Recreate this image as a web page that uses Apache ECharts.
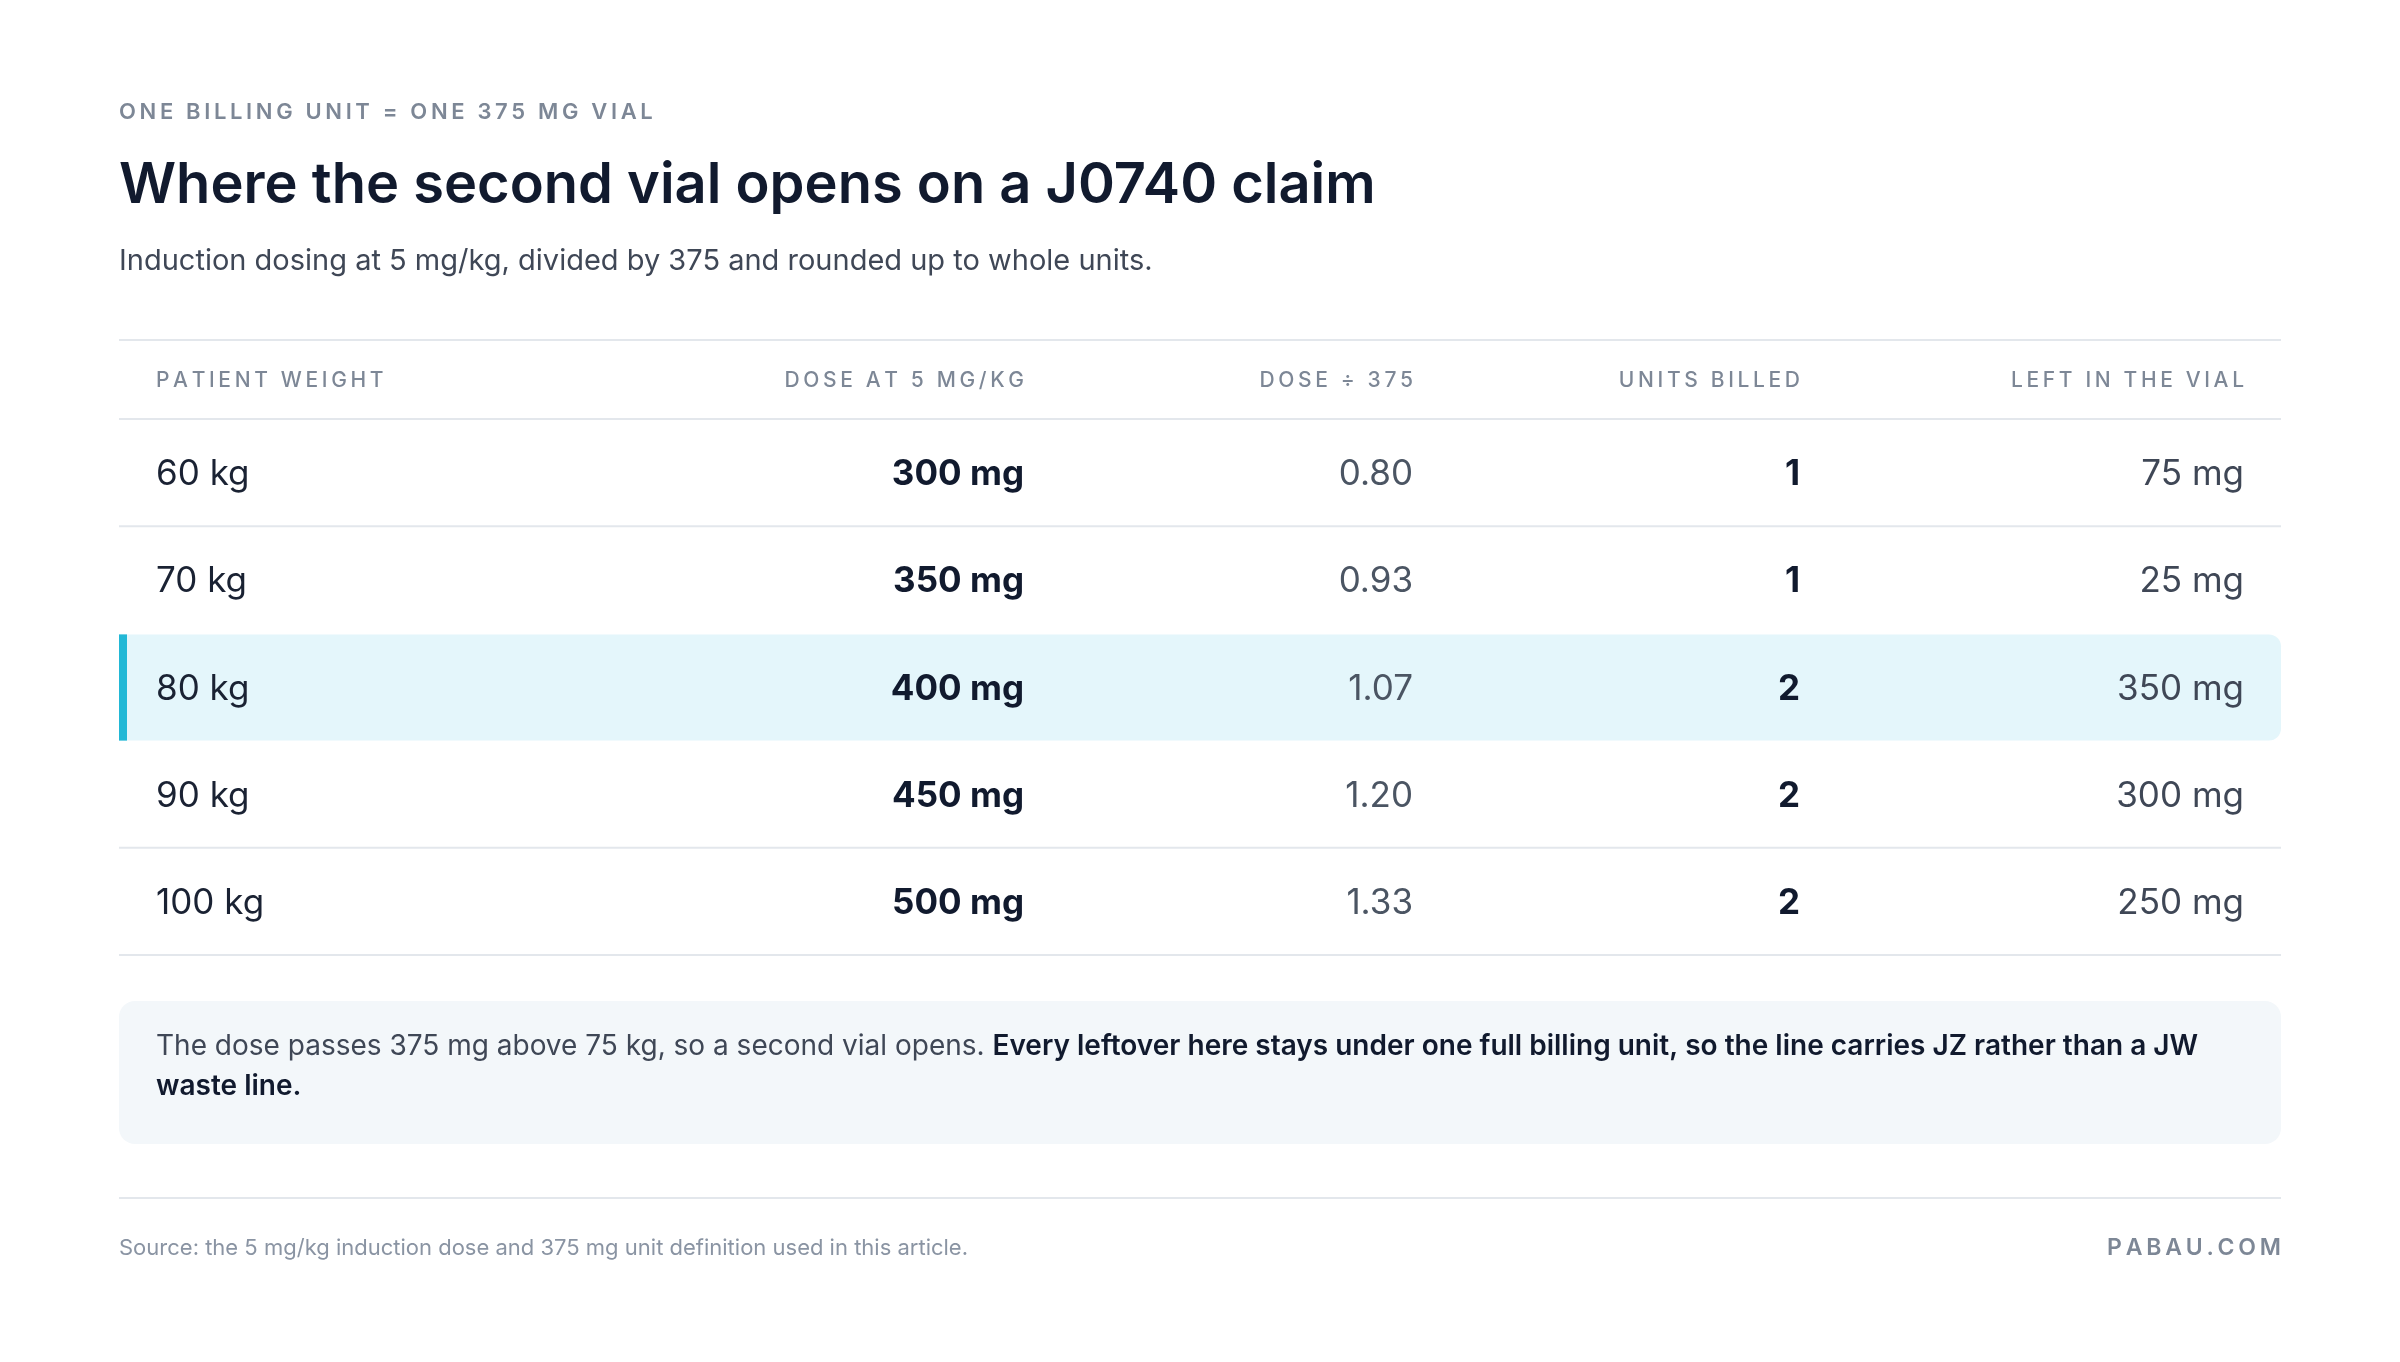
<!DOCTYPE html>
<html><head><meta charset="utf-8">
<script src="https://cdn.jsdelivr.net/npm/echarts@6/dist/echarts.min.js"></script>
<style>html,body{margin:0;padding:0;background:#fff}#c{width:2400px;height:1362px}</style>
</head><body><div id="c"></div>
<script>
const headers = ['PATIENT WEIGHT','DOSE AT 5 MG/KG','DOSE ÷ 375','UNITS BILLED','LEFT IN THE VIAL'];
const weights = ['60 kg','70 kg','80 kg','90 kg','100 kg'];
const doses = ['300 mg','350 mg','400 mg','450 mg','500 mg'];
const ratios = ['0.80','0.93','1.07','1.20','1.33'];
const units = ['1','1','2','2','2'];
const leftover = ['75 mg','25 mg','350 mg','300 mg','250 mg'];
const highlightRow = 2;

const F = 'Inter, "Noto Sans", sans-serif';
const sp = s => s.split('').join('\u2009');
const chart = echarts.init(document.getElementById('c'));
const L = 119, R = 2281;
const g = [];
g.push({type:'text',x:L,y:112,style:{text:sp('ONE BILLING UNIT = ONE 375 MG VIAL'),font:'600 22px '+F,fill:'#7d8796',verticalAlign:'middle'}});
g.push({type:'text',x:L,y:186,style:{text:'Where the second vial opens on a J0740 claim',font:'600 56px '+F,fill:'#111a2e',verticalAlign:'middle'}});
g.push({type:'text',x:L,y:261,style:{text:'Induction dosing at 5 mg/kg, divided by 375 and rounded up to whole units.',font:'400 29px '+F,fill:'#3f4756',verticalAlign:'middle'}});
const line=(y,c)=>g.push({type:'rect',shape:{x:L,y:y,width:R-L,height:2},style:{fill:c||'#e3e7ec'}});
line(339); line(418);
const colX=[156,1024,1413,1800,2244];
const colAlign=['left','right','right','right','right'];
headers.forEach((h,i)=>g.push({type:'text',x:colX[i],y:381,style:{text:sp(h),font:'500 21px '+F,fill:'#7d8796',align:colAlign[i],verticalAlign:'middle'}}));
const rowTop=419,rowH=107.2;
weights.forEach((w,r)=>{
  const top=rowTop+r*rowH, cy=top+rowH/2;
  if(r===highlightRow){
    g.push({type:'rect',shape:{x:L,y:top+1,width:R-L,height:rowH-1,r:[0,12,12,0]},style:{fill:'#e4f6fb'}});
    g.push({type:'rect',shape:{x:L,y:top+1,width:8,height:rowH-1},style:{fill:'#22b8d6'}});
  }
  const cells=[[w,'400','#1a2233'],[doses[r],'700','#111a2e'],[ratios[r],'400','#4b5563'],[units[r],'700','#111a2e'],[leftover[r],'400','#3f4756']];
  cells.forEach((c,i)=>g.push({type:'text',x:colX[i],y:cy+2,style:{text:c[0],font:c[1]+' 35px '+F,fill:c[2],align:colAlign[i],verticalAlign:'middle'}}));
  if(r!==highlightRow-1 && r!==highlightRow) line(top+rowH-1);
});
g.push({type:'rect',shape:{x:L,y:1001,width:R-L,height:143,r:16},style:{fill:'#f3f7fa'}});
g.push({type:'text',left:156,top:1033,style:{
  text:'{a|The dose passes 375 mg above 75 kg, so a second vial opens. }{b|Every leftover here stays under one full billing unit, so the line carries JZ rather than a JW}\n{b|waste line.}',
  rich:{a:{font:'400 28px '+F,fill:'#3f4756',lineHeight:40},b:{font:'600 28px '+F,fill:'#111a2e',lineHeight:40}}}});
line(1197);
g.push({type:'text',x:L,y:1248,style:{text:'Source: the 5 mg/kg induction dose and 375 mg unit definition used in this article.',font:'400 22px '+F,fill:'#8a94a3',verticalAlign:'middle'}});
g.push({type:'text',x:R,y:1248,style:{text:sp('PABAU.COM'),font:'600 23px '+F,fill:'#7d8796',align:'right',verticalAlign:'middle'}});
chart.setOption({backgroundColor:'#fff',graphic:g});
</script></body></html>
